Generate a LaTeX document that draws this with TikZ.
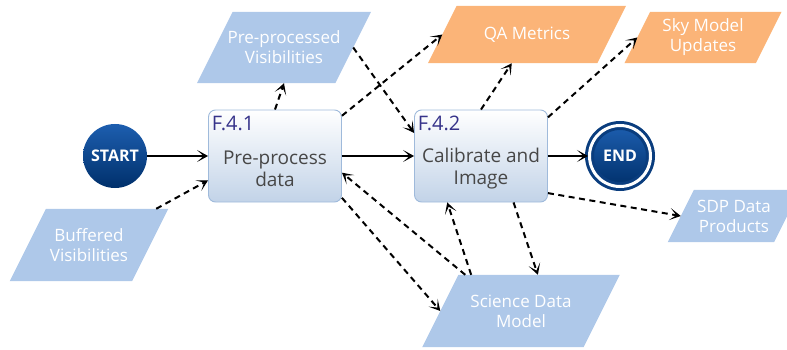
\documentclass[tikz,border=0pt]{standalone}
\usepackage{fontspec}
\setmainfont{Open Sans}
\usetikzlibrary{arrows.meta}
\usetikzlibrary{backgrounds}
\usetikzlibrary{calc}
\newcommand*{\TopGap}{\rule{0pt}{40pt}}
\definecolor{dataBlue}{HTML}{AEC8E9}
\definecolor{qaOrange}{HTML}{FBB478}
\definecolor{boxLine}{HTML}{9FBADB}
\definecolor{boxBottom}{HTML}{C2D3E8}
\definecolor{fnumColor}{HTML}{36338A}
\definecolor{bodyGray}{HTML}{474747}
\definecolor{navyTop}{HTML}{1D5EAF}
\definecolor{navyBottom}{HTML}{00306B}
\definecolor{endRing}{HTML}{0A3D7E}

\begin{document}
\begin{tikzpicture}
	[x=1pt,y=-1pt,
	terminal/.style={circle, inner sep=0pt, minimum size=64pt, top color=navyTop, bottom color=navyBottom, text=white, font=\bfseries\fontsize{16}{19}\selectfont},
	procbox/.style={rectangle, rounded corners=7pt, draw=boxLine, line width=0.9pt, top color=white, bottom color=boxBottom, minimum width=133pt, minimum height=92pt, align=center, text=bodyGray, font=\fontsize{19}{22}\selectfont},
	fnum/.style={anchor=north west, inner xsep=3.5pt, inner ysep=6.5pt, text=fnumColor, font=\fontsize{20}{22}\selectfont},
	dataobj/.style={rectangle, inner sep=0pt, align=center, text=white, font=\fontsize{17}{20}\selectfont},
	flow/.style={line width=2pt, -{Stealth[length=11pt,width=12pt,inset=6.5pt]}},
	dataflow/.style={flow, dash pattern=on 6pt off 4.5pt}]

	\useasboundingbox (0,0) rectangle (787,350);

	%Process
	\node[terminal] (start) at (115,156) {START};
	\node[procbox, label={[fnum]north west:F.4.1}] (f41) at (275,156) {\TopGap Pre-process\\data};
	\node[procbox, label={[fnum]north west:F.4.2}] (f42) at (481,156) {\TopGap Calibrate and\\Image};
	\node[terminal, minimum size=61pt, draw=endRing, double=white, double distance=3pt, line width=3pt] (finish) at (620,156) {END};

	%Data
	\node[dataobj, minimum width=138pt, minimum height=71pt] (ppv) at (284,47.5) {Pre-processed\\Visibilities};
	\node[dataobj, minimum width=169pt, minimum height=57pt] (qa) at (527,34.5) {QA Metrics};
	\node[dataobj, minimum width=131pt, minimum height=51pt] (sky) at (703,37.5) {Sky Model\\Updates};
	\node[dataobj, minimum width=122pt, minimum height=72pt] (bv) at (89,245) {Buffered\\Visibilities};
	\node[dataobj, minimum width=106pt, minimum height=52pt] (sdp) at (734,216) {SDP Data\\Products};
	\node[dataobj, minimum width=161pt, minimum height=72pt] (sdm) at (521,311) {Science Data\\Model};

	\begin{scope}[on background layer]
	\foreach \obj/\col in {ppv/dataBlue, bv/dataBlue, sdp/dataBlue, sdm/dataBlue, qa/qaOrange, sky/qaOrange}
	{
		\fill[\col] let \p1=(\obj.north west), \p2=(\obj.south east), \n1={(\y1-\y2)/4} in
			(\x1-\n1,\y2) -- (\x2-\n1,\y2) -- (\x2+\n1,\y1) -- (\x1+\n1,\y1) -- cycle;
	}
	\end{scope}

	%Flow
	\draw[flow] (start) -- (f41);
	\draw[flow] (f41) -- (f42);
	\draw[flow] (f42) -- (finish);

	\draw[dataflow] ($(bv.north east)+(6,0)$) -- (f41.200);
	\draw[dataflow] (f41.north) -- (ppv.south);
	\draw[dataflow] (f41.31) -- (qa.west);
	\draw[dataflow] (ppv.east) -- (f42.161);
	\draw[dataflow] (f42.north) -- (qa.242);
	\draw[dataflow] (f42.30) -- (sky.west);
	\draw[dataflow] (f42.-29) -- (sdp.west);
	\draw[dataflow] (f42.-55) -- (sdm.65);
	\draw[dataflow] (sdm.144) -- (f42.234);
	\draw[dataflow] (sdm.147) -- (f41.-14);
	\draw[dataflow] (f41.-32) -- (sdm.west);
\end{tikzpicture}
\end{document}
